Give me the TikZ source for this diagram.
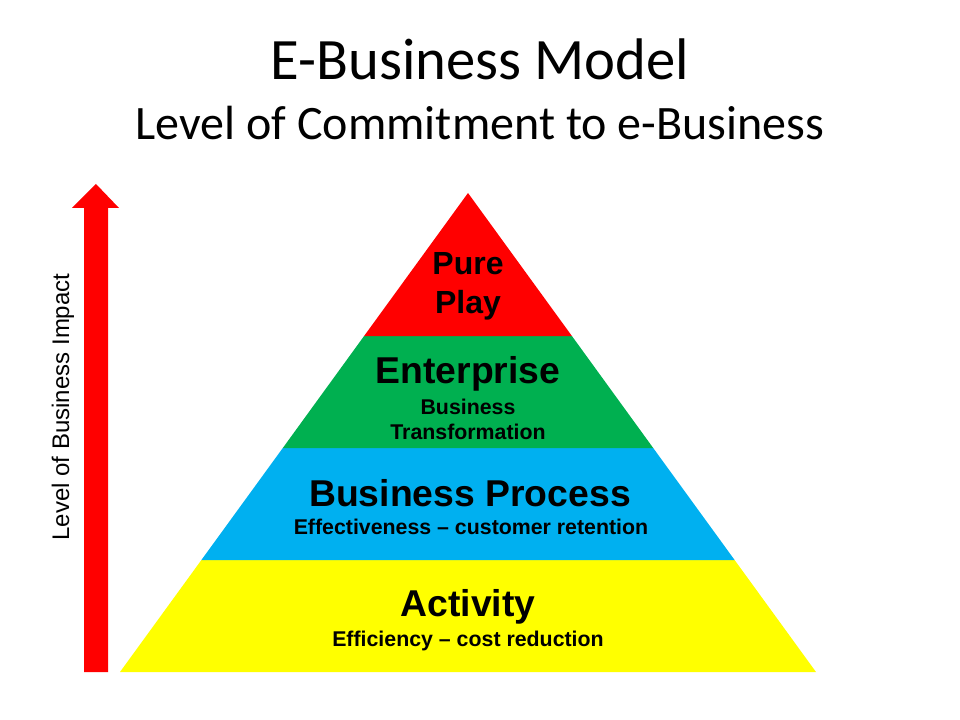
\documentclass[tikz,border=0pt]{standalone}
\usepackage{fontspec}
\newfontfamily\calfont{Carlito}
\newfontfamily\arialfont[Ligatures=TeX]{Liberation Sans}
\definecolor{pyrred}{HTML}{FF0000}
\definecolor{pyrgreen}{HTML}{00B050}
\definecolor{pyrblue}{HTML}{00B0F0}
\definecolor{pyryellow}{HTML}{FFFF00}
\tikzset{
  txt/.style={anchor=base, inner sep=0pt, text=black},
  titletxt/.style={txt, font=\calfont\fontsize{44}{50}\selectfont},
  subtxt/.style={txt, font=\calfont\fontsize{36}{42}\selectfont},
  bighead/.style={txt, font=\arialfont\bfseries\fontsize{28}{32}\selectfont},
  midhead/.style={txt, font=\arialfont\bfseries\fontsize{24}{28}\selectfont},
  smalltxt/.style={txt, font=\arialfont\bfseries\fontsize{16}{19}\selectfont},
  sidetxt/.style={inner sep=0pt, rotate=90, font=\arialfont\fontsize{18}{21}\selectfont},
}
\begin{document}
\begin{tikzpicture}[x=0.75pt, y=-0.75pt]
\useasboundingbox (0,0) rectangle (960,720);
% title
\node[titletxt] (title) at (480,80) {E-Business Model};
\node[subtxt] (subtitle) at (480,140) {Level of Commitment to e-Business};
% arrow
\fill[pyrred] (84,672) -- (84,208) -- (72,208) -- (96,184) -- (119,208) -- (108,208) -- (108,672) -- cycle;
\node[sidetxt] (impact) at (63,407) {Level of Business Impact};
% pyramid bands
\fill[pyryellow] (120,672) -- (816,672) -- (734.6,560) -- (201.4,560) -- cycle;
\fill[pyrblue] (201.4,560) -- (734.6,560) -- (653.2,448) -- (282.8,448) -- cycle;
\fill[pyrgreen] (282.8,448) -- (653.2,448) -- (571.9,336) -- (364.1,336) -- cycle;
\fill[pyrred] (364.1,336) -- (571.9,336) -- (468,193) -- cycle;
% texts
\node[midhead] (pure) at (468,275) {Pure};
\node[midhead] (play) at (468,313) {Play};
\node[bighead] (ent) at (468,383) {Enterprise};
\node[smalltxt] (bus) at (468,414) {Business};
\node[smalltxt] (trans) at (468,439) {Transformation};
\node[bighead] (bp) at (470,506) {Business Process};
\node[smalltxt] (eff) at (471,534) {Effectiveness – customer retention};
\node[bighead] (act) at (468,616) {Activity};
\node[smalltxt] (effi) at (468,646) {Efficiency – cost reduction};
\end{tikzpicture}
\end{document}
